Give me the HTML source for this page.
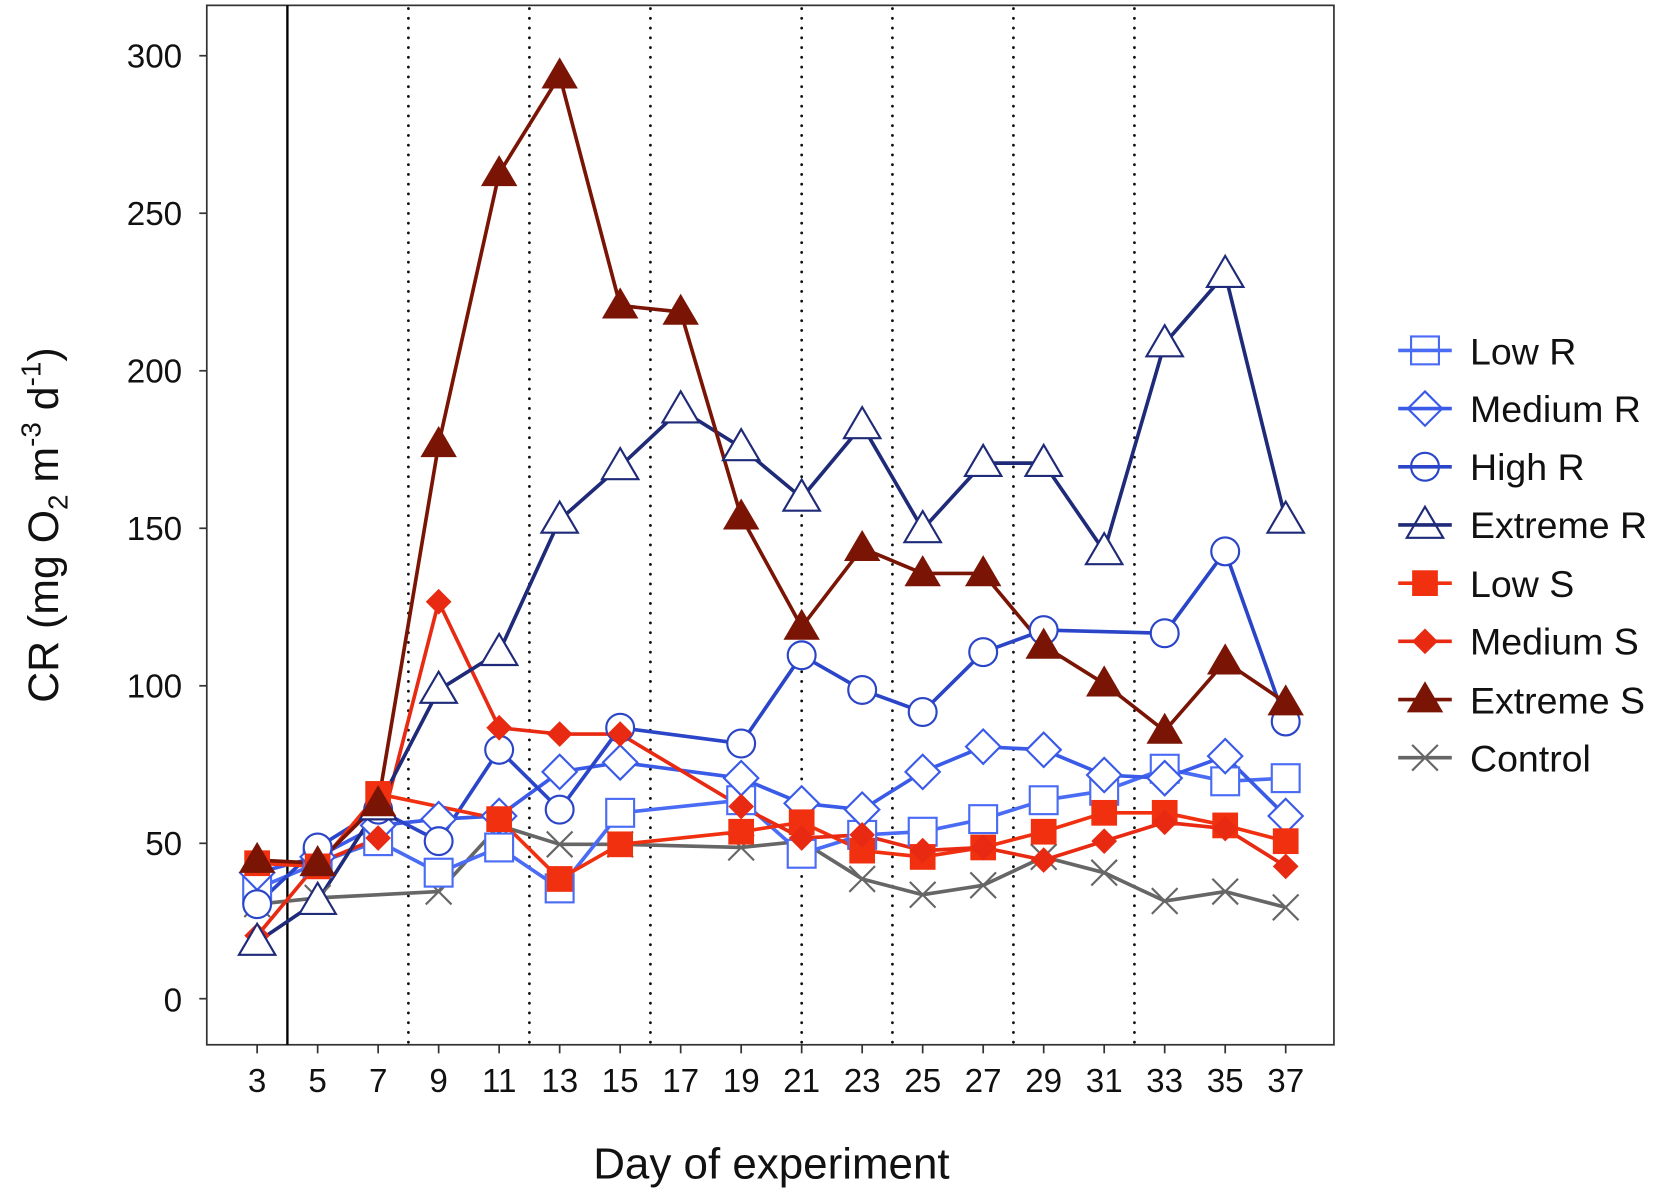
<!DOCTYPE html>
<html><head><meta charset="utf-8"><style>
html,body{margin:0;padding:0;background:#fff;}
svg{display:block;font-family:"Liberation Sans",Arial,sans-serif;}
</style></head><body>
<svg id="s" width="1680" height="1198" viewBox="0 0 1568 1118" preserveAspectRatio="none" xmlns="http://www.w3.org/2000/svg">
<rect x="193" y="5" width="1052" height="970" fill="#fff" stroke="#333" stroke-width="1.6"/>
<g id="vl"></g>
<g id="series"></g>
<g font-size="31" fill="#111" text-anchor="end">
<text x="170" y="63">300</text><text x="170" y="210">250</text><text x="170" y="357">200</text>
<text x="170" y="504">150</text><text x="170" y="651">100</text><text x="170" y="798">50</text><text x="170" y="944">0</text>
</g>
<g stroke="#333" stroke-width="1.6">
<line x1="186" x2="193" y1="52" y2="52"/><line x1="186" x2="193" y1="199" y2="199"/><line x1="186" x2="193" y1="346" y2="346"/>
<line x1="186" x2="193" y1="493" y2="493"/><line x1="186" x2="193" y1="640" y2="640"/><line x1="186" x2="193" y1="787" y2="787"/><line x1="186" x2="193" y1="932" y2="932"/>
</g>
<g id="xt" stroke="#333" stroke-width="1.6"></g>
<g font-size="31" fill="#111" text-anchor="middle">
<text x="240" y="1019">3</text><text x="296.5" y="1019">5</text><text x="353" y="1019">7</text><text x="409.4" y="1019">9</text>
<text x="465.9" y="1019">11</text><text x="522.4" y="1019">13</text><text x="578.8" y="1019">15</text><text x="635.3" y="1019">17</text>
<text x="691.8" y="1019">19</text><text x="748.2" y="1019">21</text><text x="804.7" y="1019">23</text><text x="861.2" y="1019">25</text>
<text x="917.6" y="1019">27</text><text x="974.1" y="1019">29</text><text x="1030.6" y="1019">31</text><text x="1087" y="1019">33</text>
<text x="1143.5" y="1019">35</text><text x="1200" y="1019">37</text>
</g>
<text x="720" y="1100" font-size="41" text-anchor="middle" fill="#111">Day of experiment</text>
<text transform="translate(54,490) rotate(-90)" font-size="40" text-anchor="middle" fill="#111">CR (mg O<tspan font-size="26" dy="9">2</tspan><tspan dy="-9"> m</tspan><tspan font-size="26" dy="-16">-3</tspan><tspan dy="16"> d</tspan><tspan font-size="26" dy="-16">-1</tspan><tspan dy="16">)</tspan></text>
<g id="leg"></g>
<g font-size="35" fill="#111">
<text x="1372" y="340">Low R</text><text x="1372" y="394">Medium R</text><text x="1372" y="448">High R</text>
<text x="1372" y="502">Extreme R</text><text x="1372" y="557">Low S</text><text x="1372" y="611">Medium S</text>
<text x="1372" y="666">Extreme S</text><text x="1372" y="720">Control</text>
</g>
</svg>
<script>
const NS="http://www.w3.org/2000/svg";
const X=d=>240+28.235*(d-3), Y=v=>932-2.94*v;
function el(p,t,a){const e=document.createElementNS(NS,t);for(const k in a)e.setAttribute(k,a[k]);p.appendChild(e);return e;}
const vl=document.getElementById('vl');
el(vl,'line',{x1:X(4),x2:X(4),y1:5,y2:975,stroke:'#000','stroke-width':2.2});
[8,12,16,21,24,28,32].forEach(d=>el(vl,'line',{x1:X(d),x2:X(d),y1:8,y2:975,stroke:'#111','stroke-width':2.6,'stroke-dasharray':'0.1 9','stroke-linecap':'round'}));
const xt=document.getElementById('xt');
for(let d=3;d<=37;d+=2)el(xt,'line',{x1:X(d),x2:X(d),y1:975,y2:983});
function marker(g,t,x,y,c){
 const r=13;
 if(t=='sq')el(g,'rect',{x:x-r,y:y-r,width:2*r,height:2*r,fill:'#fff',stroke:c,'stroke-width':2});
 if(t=='dm')el(g,'polygon',{points:`${x},${y-16} ${x+16},${y} ${x},${y+16} ${x-16},${y}`,fill:'#fff',stroke:c,'stroke-width':2});
 if(t=='ci')el(g,'circle',{cx:x,cy:y,r:13,fill:'#fff',stroke:c,'stroke-width':2});
 if(t=='tr')el(g,'polygon',{points:`${x},${y-17} ${x+17},${y+12} ${x-17},${y+12}`,fill:'#fff',stroke:c,'stroke-width':2});
 if(t=='fsq')el(g,'rect',{x:x-12,y:y-12,width:24,height:24,fill:c});
 if(t=='fdm')el(g,'polygon',{points:`${x},${y-12} ${x+12},${y} ${x},${y+12} ${x-12},${y}`,fill:c});
 if(t=='ftr')el(g,'polygon',{points:`${x},${y-17} ${x+17},${y+12} ${x-17},${y+12}`,fill:c});
 if(t=='x'){el(g,'line',{x1:x-12,y1:y-12,x2:x+12,y2:y+12,stroke:c,'stroke-width':2});el(g,'line',{x1:x-12,y1:y+12,x2:x+12,y2:y-12,stroke:c,'stroke-width':2});}
}
const S=[
 ['x','#666',[[3,30],[5,32],[9,34],[11,55],[13,49],[15,49],[19,48],[21,50],[23,38],[25,33],[27,36],[29,45],[31,40],[33,31],[35,34],[37,29]]],
 ['sq','#4a6cf5',[[3,35],[5,43],[7,50],[9,40],[11,48],[13,35],[15,59],[19,63],[21,46],[23,52],[25,53],[27,57],[29,63],[31,66],[33,73],[35,69],[37,70]]],
 ['dm','#3a5ae8',[[3,40],[5,45],[7,55],[9,57],[11,58],[13,72],[15,75],[19,70],[21,62],[23,60],[25,72],[27,80],[29,79],[31,71],[33,70],[35,77],[37,58]]],
 ['ci','#2a45c8',[[3,30],[5,48],[7,60],[9,50],[11,79],[13,60],[15,86],[19,81],[21,109],[23,98],[25,91],[27,110],[29,117],[33,116],[35,142],[37,88]]],
 ['fsq','#f0300f',[[3,43],[5,42],[7,65],[11,57],[13,38],[15,49],[19,53],[21,56],[23,47],[25,45],[27,48],[29,53],[31,59],[33,59],[35,55],[37,50]]],
 ['fdm','#e82a12',[[3,20],[5,43],[7,51],[9,126],[11,86],[13,84],[15,84],[19,61],[21,51],[23,52],[25,47],[27,48],[29,44],[31,50],[33,56],[35,54],[37,42]]],
 ['tr','#1f2a78',[[3,18],[5,31],[7,61],[9,98],[11,110],[13,152],[15,169],[17,187],[19,175],[21,159],[23,182],[25,149],[27,170],[29,170],[31,142],[33,208],[35,230],[37,152]]],
 ['ftr','#7a1505',[[3,44],[5,43],[7,62],[9,176],[11,262],[13,293],[15,220],[17,218],[19,153],[21,118],[23,143],[25,135],[27,135],[29,112],[31,100],[33,85],[35,107],[37,94]]]
];
const sg=document.getElementById('series');
S.forEach(([t,c,d])=>{
 el(sg,'polyline',{points:d.map(p=>X(p[0])+','+Y(p[1])).join(' '),fill:'none',stroke:c,'stroke-width':3.4,'stroke-linejoin':'round'});
});
S.forEach(([t,c,d])=>{const g=el(sg,'g',{});d.forEach(p=>marker(g,t,X(p[0]),Y(p[1]),c));});
const L=[['sq','#4a6cf5'],['dm','#3a5ae8'],['ci','#2a45c8'],['tr','#1f2a78'],['fsq','#f0300f'],['fdm','#e82a12'],['ftr','#7a1505'],['x','#666']];
const lg=document.getElementById('leg');
L.forEach(([t,c],i)=>{const y=327+54.3*i;marker(lg,t,1330,y,c);el(lg,'line',{x1:1305,x2:1355,y1:y,y2:y,stroke:c,'stroke-width':3.4});});
</script>
</body></html>
